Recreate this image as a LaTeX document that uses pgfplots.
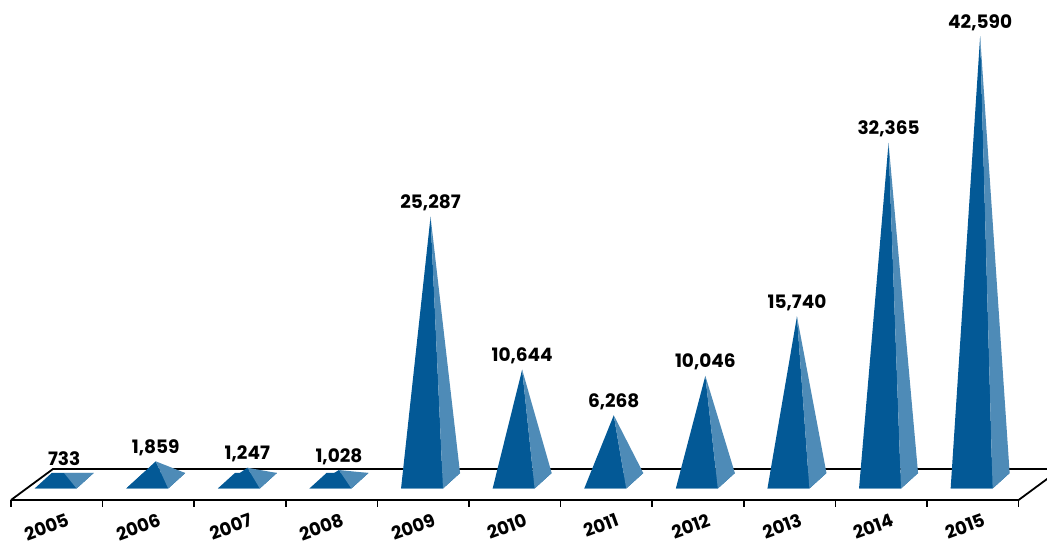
\documentclass[border=0pt]{standalone}
\usepackage{fontspec}
\setmainfont{Poppins}
\usepackage{pgfplots}
\pgfplotsset{compat=1.18}
\definecolor{pdark}{RGB}{3,89,150}
\definecolor{plight}{RGB}{78,139,183}
\tikzset{
  vlab/.style={anchor=base, yshift=8pt, inner sep=0pt, font=\bfseries\fontsize{18.5}{21}\selectfont},
  ylab/.style={anchor=east, rotate=20, inner sep=0pt, font=\bfseries\fontsize{18}{21}\selectfont},
}
% #1 category index (0 = 2005), #2 value, #3 printed value
\newcommand\pyr[3]{%
  \pgfmathsetmacro\xl{#1+0.12}%
  \pgfmathsetmacro\xr{#1+0.578}%
  \pgfmathsetmacro\xc{#1+0.349}%
  \edef\temp{%
    \noexpand\addplot3[fill=pdark,draw=none] coordinates {(\xl,11.5,0) (\xr,11.5,0) (\xr,27,0) (\xl,27,0)};%
    \noexpand\addplot3[fill=pdark,draw=none] coordinates {(\xl,11.5,0) (\xr,11.5,0) (\xc,19.25,#2)};%
    \noexpand\addplot3[fill=plight,draw=none] coordinates {(\xr,11.5,0) (\xr,27,0) (\xc,19.25,#2)};%
    \noexpand\node[vlab] at (axis cs:\xc,19.25,#2) {#3};%
  }\temp}
\begin{document}
\begin{tikzpicture}
\begin{axis}[
  hide axis, clip=false,
  x={(91.6pt,0pt)}, y={(1.1pt,1pt)}, z={(0pt,0.01044pt)},
  xmin=0, xmax=11.1, ymin=0, ymax=31, zmin=0, zmax=43000,
]
\coordinate (O) at (axis cs:0,0,0);
% floor
\addplot3[draw=black, line width=1.8pt, line join=miter, fill=none, mark=none]
  coordinates {(0,0,0) (11,0,0) (11.0862,31,0) (0.0862,31,0) (0,0,0)};
\pgfplotsinvokeforeach{0,...,11}{
  \draw[line width=1.6pt] (axis cs:#1,0,0) -- ++(0pt,-7pt);
}
\pgfplotsinvokeforeach{0,...,10}{
  \node[ylab] at (axis cs:#1.5,0,0) [xshift=4pt, yshift=-22pt] {\the\numexpr2005+#1\relax};
}
% pyramids
\pyr{0}{733}{733}
\pyr{1}{1859}{1,859}
\pyr{2}{1247}{1,247}
\pyr{3}{1028}{1,028}
\pyr{4}{25287}{25,287}
\pyr{5}{10644}{10,644}
\pyr{6}{6268}{6,268}
\pyr{7}{10046}{10,046}
\pyr{8}{15740}{15,740}
\pyr{9}{32365}{32,365}
\pyr{10}{42590}{42,590}
\end{axis}
\pgfresetboundingbox
\path[use as bounding box, shift={(O)}] (-11pt,-46pt) rectangle (1036pt,500pt);
\end{tikzpicture}
\end{document}
